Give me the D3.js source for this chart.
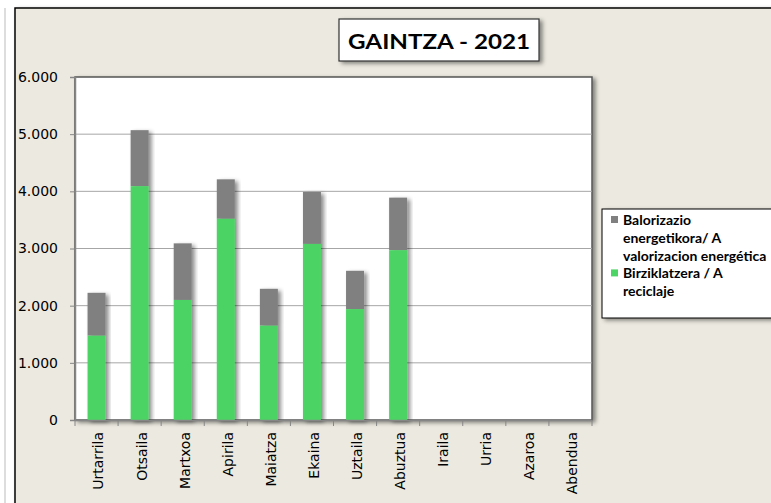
<!DOCTYPE html>
<html><head><meta charset="utf-8">
<script src="https://cdn.jsdelivr.net/npm/d3@7/dist/d3.min.js"></script>
<style>body{margin:0;background:#fff}svg{display:block}</style>
</head><body>
<svg id="c" width="771" height="503"></svg>
<script>
const months = ["Urtarrila","Otsaila","Martxoa","Apirila","Maiatza","Ekaina","Uztaila","Abuztua","Iraila","Urria","Azaroa","Abendua"];
const reciclaje = [1475, 4090, 2100, 3520, 1650, 3080, 1940, 2970, null, null, null, null];
const valorizacion = [750, 980, 990, 690, 645, 910, 670, 920, null, null, null, null];
const yTicks = [0, 1000, 2000, 3000, 4000, 5000, 6000];
const seriesNames = ["Balorizazio energetikora/ A valorizacion energética", "Birziklatzera / A reciclaje"];
const title = "GAINTZA - 2021";

const svg = d3.select("#c");
const defs = svg.append("defs");
const f = defs.append("filter").attr("id","sh").attr("x","-20%").attr("y","-20%").attr("width","150%").attr("height","150%");
f.append("feDropShadow").attr("dx",3).attr("dy",2).attr("stdDeviation",2).attr("flood-color","#000").attr("flood-opacity",0.45);

svg.append("rect").attr("x",0).attr("y",0).attr("width",771).attr("height",503).attr("fill","#fff");
svg.append("line").attr("x1",5).attr("x2",5).attr("y1",8).attr("y2",503).attr("stroke","#ddd").attr("stroke-width",2);
svg.append("rect").attr("x",15).attr("y",8).attr("width",780).attr("height",520)
  .attr("fill","#ECEAE0").attr("stroke","#000").attr("stroke-width",1.5).attr("filter","url(#sh)");

const L = 75, R = 592, T = 77, B = 420;
const x = d3.scaleBand().domain(months).range([L, R]);
const y = d3.scaleLinear().domain([0, 6000]).range([B, T]);

svg.append("rect").attr("x",L).attr("y",T).attr("width",R-L).attr("height",B-T)
  .attr("fill","#fff").attr("stroke","#555").attr("stroke-width",1.5).attr("filter","url(#sh)");

svg.append("g").selectAll("line").data(yTicks.filter(d=>d>0 && d<6000)).join("line")
  .attr("x1",L).attr("x2",R).attr("y1",d=>y(d)).attr("y2",d=>y(d))
  .attr("stroke","#a6a6a6").attr("stroke-width",1);

const bw = 18;
const data = months.map((m,i)=>({m, r:reciclaje[i], v:valorizacion[i]})).filter(d=>d.r!=null);
const gb = svg.append("g");
const barG = gb.selectAll("g").data(data).join("g").attr("filter","url(#sh)");
barG.append("rect").attr("x",d=>x(d.m)+x.bandwidth()/2-bw/2).attr("width",bw)
  .attr("y",d=>y(d.r+d.v)).attr("height",d=>y(d.r)-y(d.r+d.v)).attr("fill","#808080");
barG.append("rect").attr("x",d=>x(d.m)+x.bandwidth()/2-bw/2).attr("width",bw)
  .attr("y",d=>y(d.r)).attr("height",d=>B-y(d.r)).attr("fill","#4CD464");

const yAxis = d3.axisLeft(y).tickValues(yTicks).tickSize(5).tickFormat(d=>d3.format(",")(d).replace(/,/g,"."));
const ga = svg.append("g").attr("transform",`translate(${L},0)`).call(yAxis);
ga.select(".domain").attr("stroke","#868686").attr("stroke-width",1.5);
ga.selectAll(".tick line").attr("stroke","#868686");
ga.selectAll("text").attr("font-family","DejaVu Sans, Verdana").attr("font-size",14).attr("fill","#000")
  .attr("text-anchor","end").attr("x",-17);

const xAxis = d3.axisBottom(x).tickSize(0).tickSizeOuter(0);
const gx = svg.append("g").attr("transform",`translate(0,${B})`).call(xAxis);
gx.select(".domain").attr("stroke","#868686").attr("stroke-width",1.5);
gx.selectAll(".tick text").attr("font-family","DejaVu Sans, Verdana").attr("font-size",14).attr("fill","#000")
  .attr("transform","rotate(-90)").attr("text-anchor","end").attr("x",-12).attr("y",2).attr("dy","0.35em");
svg.append("g").selectAll("line").data(d3.range(months.length+1)).join("line")
  .attr("x1",i=>L+i*x.step()).attr("x2",i=>L+i*x.step()).attr("y1",B).attr("y2",B+6)
  .attr("stroke","#868686");

const tg = svg.append("g");
tg.append("rect").attr("x",339).attr("y",19).attr("width",200).attr("height",42)
  .attr("fill","#fff").attr("stroke","#333").attr("stroke-width",1.2).attr("filter","url(#sh)");
tg.append("text").attr("x",439).attr("y",49).attr("text-anchor","middle")
  .attr("font-family","Lato, 'Open Sans', sans-serif").attr("font-weight","bold").attr("font-size",21)
  .attr("textLength",182).attr("lengthAdjust","spacingAndGlyphs").text(title);

const lg = svg.append("g");
lg.append("rect").attr("x",602).attr("y",209).attr("width",200).attr("height",109)
  .attr("fill","#fff").attr("stroke","#000").attr("stroke-width",1).attr("filter","url(#sh)");
const legLines = [["Balorizazio","energetikora/ A","valorizacion energética"],["Birziklatzera / A","reciclaje"]];
const legColors = ["#808080","#4CD464"];
let ly = 220;
legLines.forEach((lines,i)=>{
  lg.append("rect").attr("x",611).attr("y",ly-4).attr("width",7).attr("height",7).attr("fill",legColors[i]);
  lines.forEach(t=>{
    lg.append("text").attr("x",623).attr("y",ly).attr("dy","0.35em")
      .attr("font-family","Lato, 'Open Sans', sans-serif").attr("font-weight","bold").attr("font-size",14)
      .attr("fill","#000").text(t);
    ly += 17.8;
  });
});
</script>
</body></html>
